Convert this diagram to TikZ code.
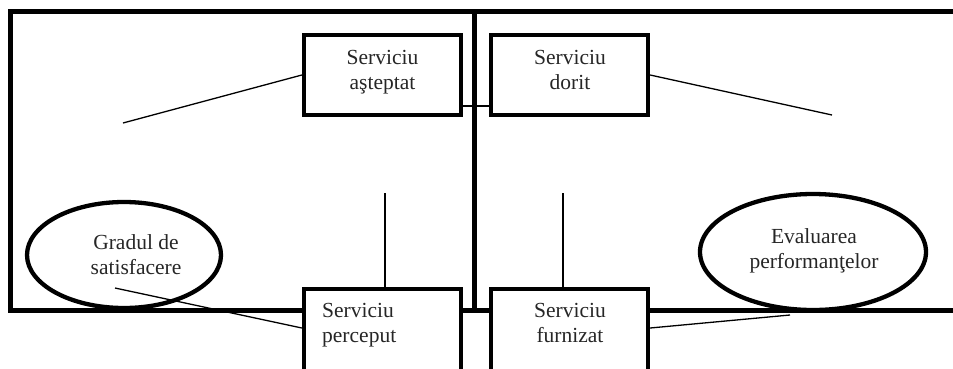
\documentclass[tikz,border=0pt]{standalone}
\usepackage{fontspec}
\setmainfont{Liberation Serif}
\usetikzlibrary{shapes.geometric,calc}
\begin{document}
\begin{tikzpicture}[x=1pt,y=-1pt,
  frame/.style={line width=5pt, line join=miter},
  box/.style={draw, line width=4.3pt, fill=white, minimum width=157pt, inner sep=0pt},
  oval/.style={draw, ellipse, line width=4.3pt, inner sep=0pt},
  link/.style={line width=1.3pt},
  txt/.style={font=\fontsize{21.5}{25}\selectfont, text=black!85, inner sep=0pt}]
\useasboundingbox (0,0) rectangle (953,368);
\clip (0,0) rectangle (953,368);

% outer frame and middle divider
\draw[frame] (960,310) -- (10,310) -- (10,11) -- (960,11);
\draw[frame] (474,11) -- (474,310);

% service boxes
\node[box, minimum height=80pt] (asteptat) at (382.5,75) {};
\node[box, minimum height=80pt] (dorit) at (569.5,75) {};
\node[box, minimum height=100pt, anchor=north] (perceput) at (382.5,287) {};
\node[box, minimum height=100pt, anchor=north] (furnizat) at (569.5,287) {};

% ovals
\node[oval, minimum width=194pt, minimum height=106pt] (gradul) at (124,255) {};
\node[oval, minimum width=226pt, minimum height=116pt] (evaluarea) at (813,252) {};

% labels
\node[txt, align=center, anchor=north] (tasteptat) at (382.5,50.5) {Serviciu\\aşteptat};
\node[txt, align=center, anchor=north] (tdorit) at (570,50.5) {Serviciu\\dorit};
\node[txt, align=left, anchor=north west] (tperceput) at (322,303.5) {Serviciu\\perceput};
\node[txt, align=center, anchor=north] (tfurnizat) at (570,303.5) {Serviciu\\furnizat};
\node[txt, align=center, anchor=north] (tgradul) at (136,234.5) {Gradul de\\satisfacere};
\node[txt, align=center, anchor=north] (tevaluarea) at (814,228.5) {Evaluarea\\performanţelor};

% free ends of the connectors
\coordinate (endA) at (123,123);
\coordinate (endD) at (832,115);
\coordinate (endP) at (385,193);
\coordinate (endF) at (563,193);
\coordinate (endG) at (115,288);
\coordinate (endE) at (790,315);

% connectors
\draw[link] (asteptat.west) -- (endA);
\draw[link] (dorit.east) -- (endD);
\draw[link] (asteptat.east |- 0,106) -- (dorit.west |- 0,106);
\draw[link] (endP) -- (perceput.north -| endP);
\draw[link] (endF) -- (furnizat.north -| endF);
\draw[link] (endG) -- (perceput.west |- 0,328);
\draw[link] (furnizat.east |- 0,328) -- (endE);
\end{tikzpicture}
\end{document}
